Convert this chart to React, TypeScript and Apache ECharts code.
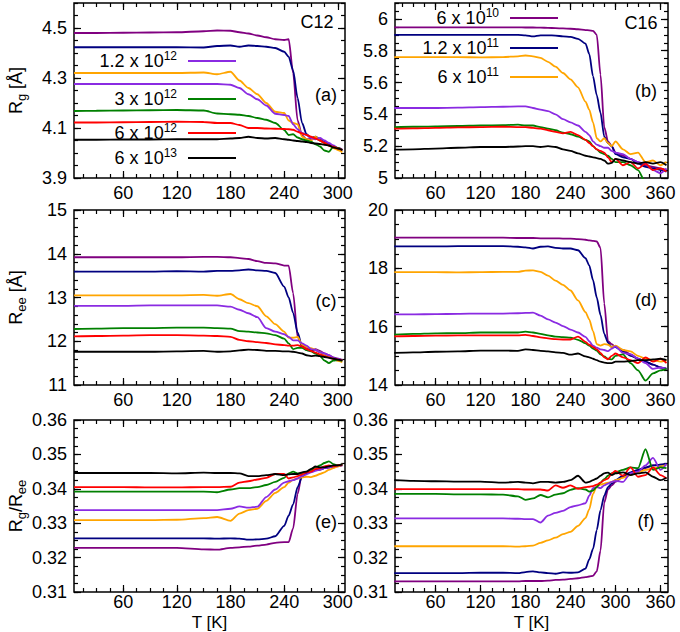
import React, { useEffect, useRef } from "react";
import * as echarts from "echarts";

const FONT = "'Liberation Sans', Arial, Helvetica, sans-serif";

// Temperatures (K)
const T_C12 = [5, 30, 60, 90, 120, 150, 165, 180, 190, 200, 210, 220, 230, 240, 245, 250, 255, 260, 265, 270, 275, 280, 285, 290, 295, 300, 305];
const T_C16 = [5, 30, 60, 90, 120, 150, 170, 180, 190, 200, 210, 220, 230, 240, 250, 260, 265, 270, 275, 280, 285, 290, 295, 300, 310, 320, 330, 340, 350, 360, 368];

// Cooling rates (legend) and colours
const LEGEND_BASE = ["6 x 10", "1.2 x 10", "6 x 10", "1.2 x 10", "3 x 10", "6 x 10", "6 x 10"];
const LEGEND_EXP = ["10", "11", "11", "12", "12", "12", "13"];
const COLORS = ["#800080", "#000080", "#ffa500", "#8a2be2", "#008000", "#ff0000", "#000000"];

// (a) Rg C12
const RG12_P = [4.48, 4.48, 4.481, 4.482, 4.483, 4.487, 4.49, 4.489, 4.483, 4.478, 4.47, 4.463, 4.455, 4.452, 4.455, 4.32, 4.13, 4.07, 4.055, 4.055, 4.06, 4.05, 4.04, 4.035, 4.025, 4.02, 4.012];
const RG12_N = [4.423, 4.423, 4.423, 4.423, 4.423, 4.422, 4.428, 4.43, 4.425, 4.43, 4.428, 4.425, 4.42, 4.405, 4.385, 4.33, 4.22, 4.12, 4.075, 4.06, 4.065, 4.055, 4.045, 4.035, 4.025, 4.018, 4.01];
const RG12_O = [4.32, 4.32, 4.32, 4.32, 4.32, 4.322, 4.315, 4.325, 4.29, 4.26, 4.235, 4.2, 4.165, 4.16, 4.13, 4.12, 4.115, 4.065, 4.055, 4.05, 4.065, 4.05, 4.04, 4.03, 4.02, 4.012, 4.003];
const RG12_V = [4.276, 4.276, 4.276, 4.276, 4.276, 4.276, 4.276, 4.273, 4.26, 4.235, 4.215, 4.19, 4.157, 4.152, 4.148, 4.115, 4.095, 4.08, 4.072, 4.06, 4.055, 4.06, 4.05, 4.04, 4.03, 4.02, 4.015];
const RG12_G = [4.168, 4.169, 4.17, 4.171, 4.172, 4.17, 4.158, 4.155, 4.153, 4.148, 4.14, 4.133, 4.12, 4.092, 4.072, 4.075, 4.062, 4.055, 4.05, 4.045, 4.035, 4.026, 4.01, 4.005, 4.025, 4.02, 4.012];
const RG12_R = [4.122, 4.122, 4.123, 4.124, 4.125, 4.124, 4.12, 4.12, 4.112, 4.1, 4.1, 4.098, 4.097, 4.096, 4.095, 4.093, 4.085, 4.078, 4.072, 4.065, 4.058, 4.05, 4.04, 4.03, 4.025, 4.018, 4.012];
const RG12_K = [4.053, 4.053, 4.054, 4.054, 4.055, 4.055, 4.055, 4.058, 4.06, 4.065, 4.06, 4.058, 4.06, 4.055, 4.053, 4.05, 4.048, 4.046, 4.044, 4.04, 4.038, 4.036, 4.033, 4.03, 4.022, 4.018, 4.012];

// (c) Ree C12
const REE12_P = [13.92, 13.92, 13.92, 13.92, 13.92, 13.93, 13.93, 13.92, 13.9, 13.88, 13.83, 13.79, 13.78, 13.73, 13.73, 13.1, 12.1, 11.9, 11.85, 11.8, 11.82, 11.78, 11.72, 11.68, 11.63, 11.6, 11.57];
const REE12_N = [13.59, 13.59, 13.59, 13.59, 13.6, 13.59, 13.61, 13.61, 13.62, 13.64, 13.62, 13.61, 13.56, 13.25, 13.0, 12.65, 12.2, 11.88, 11.8, 11.78, 11.8, 11.75, 11.7, 11.65, 11.62, 11.58, 11.55];
const REE12_O = [13.05, 13.05, 13.05, 13.05, 13.05, 13.06, 13.04, 13.08, 12.96, 12.87, 12.8, 12.57, 12.39, 12.22, 12.08, 12.08, 12.1, 11.92, 11.87, 11.84, 11.8, 11.75, 11.7, 11.65, 11.6, 11.55, 11.52];
const REE12_V = [12.81, 12.81, 12.81, 12.82, 12.82, 12.82, 12.82, 12.79, 12.72, 12.64, 12.55, 12.3, 12.22, 12.16, 12.1, 12.02, 12.02, 11.95, 11.9, 11.82, 11.8, 11.75, 11.72, 11.68, 11.62, 11.6, 11.56];
const REE12_G = [12.28, 12.29, 12.3, 12.3, 12.31, 12.31, 12.3, 12.29, 12.23, 12.22, 12.2, 12.18, 12.14, 12.06, 11.95, 11.82, 11.85, 11.85, 11.8, 11.77, 11.72, 11.66, 11.56, 11.5, 11.56, 11.57, 11.55];
const REE12_R = [12.11, 12.12, 12.13, 12.14, 12.14, 12.13, 12.12, 12.1, 12.03, 12.0, 11.98, 11.96, 11.93, 11.91, 11.9, 11.9, 11.91, 11.88, 11.82, 11.78, 11.74, 11.7, 11.66, 11.63, 11.6, 11.58, 11.56];
const REE12_K = [11.76, 11.76, 11.76, 11.76, 11.77, 11.78, 11.76, 11.77, 11.79, 11.81, 11.8, 11.78, 11.78, 11.77, 11.77, 11.76, 11.74, 11.72, 11.68, 11.66, 11.67, 11.66, 11.64, 11.62, 11.6, 11.58, 11.56];

// (e) Rg/Ree C12
const RAT12_P = [0.3228, 0.3228, 0.3228, 0.3228, 0.3228, 0.3224, 0.3223, 0.3228, 0.323, 0.3232, 0.3235, 0.3238, 0.3243, 0.3245, 0.3245, 0.3285, 0.3385, 0.3445, 0.3448, 0.345, 0.3455, 0.3455, 0.346, 0.3462, 0.3465, 0.3465, 0.3468];
const RAT12_N = [0.3256, 0.3256, 0.3256, 0.3256, 0.3256, 0.3256, 0.3255, 0.3256, 0.3255, 0.3252, 0.3253, 0.3255, 0.3262, 0.3292, 0.3322, 0.3355, 0.3405, 0.3435, 0.3445, 0.345, 0.3455, 0.3458, 0.346, 0.3462, 0.3465, 0.3468, 0.347];
const RAT12_O = [0.3309, 0.3309, 0.3309, 0.3309, 0.331, 0.3315, 0.3318, 0.3307, 0.3328, 0.3338, 0.3342, 0.3365, 0.3388, 0.3405, 0.3418, 0.3426, 0.343, 0.3433, 0.3435, 0.3434, 0.3438, 0.3443, 0.3448, 0.3455, 0.346, 0.3465, 0.3472];
const RAT12_V = [0.3338, 0.3338, 0.3338, 0.3338, 0.3338, 0.3338, 0.3338, 0.3342, 0.3349, 0.3345, 0.3348, 0.3376, 0.3398, 0.3418, 0.3422, 0.3425, 0.343, 0.3437, 0.3442, 0.3448, 0.3452, 0.3456, 0.346, 0.3462, 0.3465, 0.3468, 0.3472];
const RAT12_G = [0.3392, 0.3392, 0.3392, 0.3392, 0.3392, 0.3392, 0.339, 0.3398, 0.3402, 0.3402, 0.3405, 0.3411, 0.342, 0.3432, 0.3445, 0.345, 0.3445, 0.3443, 0.345, 0.3455, 0.3462, 0.3468, 0.3475, 0.348, 0.3472, 0.3468, 0.3472];
const RAT12_R = [0.3405, 0.3405, 0.3405, 0.3404, 0.3404, 0.3405, 0.3405, 0.3406, 0.3418, 0.3422, 0.3427, 0.3432, 0.3443, 0.3443, 0.343, 0.3433, 0.3437, 0.3442, 0.3448, 0.345, 0.3458, 0.346, 0.3465, 0.3468, 0.3465, 0.3468, 0.347];
const RAT12_K = [0.3446, 0.3446, 0.3446, 0.3446, 0.3445, 0.3447, 0.3446, 0.3446, 0.3445, 0.3437, 0.3437, 0.344, 0.3443, 0.344, 0.3442, 0.3443, 0.3443, 0.3448, 0.345, 0.3458, 0.3465, 0.3462, 0.3462, 0.3465, 0.3468, 0.3468, 0.347];

// (b) Rg C16
const RG16_P = [5.947, 5.947, 5.947, 5.947, 5.947, 5.947, 5.947, 5.946, 5.946, 5.945, 5.944, 5.942, 5.94, 5.938, 5.935, 5.93, 5.928, 5.925, 5.9, 5.65, 5.32, 5.23, 5.2, 5.16, 5.14, 5.12, 5.1, 5.08, 5.07, 5.06, 5.05];
const RG16_N = [5.9, 5.9, 5.9, 5.9, 5.9, 5.9, 5.9, 5.897, 5.89, 5.897, 5.897, 5.895, 5.89, 5.887, 5.875, 5.845, 5.78, 5.64, 5.52, 5.41, 5.26, 5.22, 5.2, 5.15, 5.13, 5.12, 5.09, 5.07, 5.06, 5.05, 5.04];
const RG16_O = [5.76, 5.76, 5.76, 5.76, 5.758, 5.76, 5.765, 5.77, 5.765, 5.755, 5.73, 5.7, 5.66, 5.62, 5.57, 5.48, 5.43, 5.35, 5.25, 5.23, 5.25, 5.22, 5.2, 5.23, 5.18, 5.15, 5.16, 5.1, 5.11, 5.08, 5.1];
const RG16_V = [5.44, 5.44, 5.44, 5.442, 5.445, 5.448, 5.45, 5.45, 5.44, 5.43, 5.42, 5.4, 5.37, 5.35, 5.33, 5.29, 5.27, 5.23, 5.21, 5.2, 5.19, 5.19, 5.17, 5.16, 5.15, 5.12, 5.1, 5.09, 5.05, 5.03, 5.06];
const RG16_G = [5.32, 5.322, 5.325, 5.327, 5.33, 5.332, 5.335, 5.33, 5.33, 5.32, 5.31, 5.3, 5.285, 5.275, 5.26, 5.24, 5.23, 5.2, 5.18, 5.16, 5.15, 5.14, 5.12, 5.1, 5.1, 5.08, 5.05, 4.97, 4.92, 4.88, 4.85];
const RG16_R = [5.31, 5.312, 5.315, 5.318, 5.32, 5.322, 5.32, 5.32, 5.315, 5.31, 5.3, 5.29, 5.28, 5.29, 5.27, 5.24, 5.22, 5.2, 5.18, 5.17, 5.16, 5.13, 5.1, 5.12, 5.08, 5.1, 5.06, 5.09, 5.05, 5.06, 5.04];
const RG16_K = [5.178, 5.18, 5.185, 5.19, 5.195, 5.195, 5.198, 5.2, 5.2, 5.195, 5.2, 5.195, 5.18, 5.17, 5.155, 5.14, 5.135, 5.13, 5.125, 5.12, 5.11, 5.09, 5.095, 5.12, 5.11, 5.1, 5.09, 5.1, 5.09, 5.1, 5.08];

// (d) Ree C16
const REE16_P = [19.05, 19.05, 19.05, 19.05, 19.05, 19.05, 19.04, 19.04, 19.04, 19.03, 19.03, 19.03, 19.02, 19.02, 19.0, 18.98, 18.96, 18.94, 18.92, 18.7, 16.8, 15.5, 15.4, 15.3, 15.2, 15.05, 14.9, 14.8, 14.7, 14.6, 14.55];
const REE16_N = [18.75, 18.75, 18.75, 18.76, 18.76, 18.76, 18.74, 18.72, 18.68, 18.74, 18.75, 18.7, 18.68, 18.68, 18.62, 18.35, 18.1, 17.6, 17.0, 16.4, 15.75, 15.45, 15.3, 15.3, 15.15, 15.0, 14.9, 14.8, 14.7, 14.6, 14.55];
const REE16_O = [17.87, 17.87, 17.87, 17.86, 17.87, 17.88, 17.88, 17.92, 17.93, 17.88, 17.75, 17.58, 17.43, 17.24, 16.9, 16.5, 16.25, 15.85, 15.4, 15.35, 15.4, 15.38, 15.3, 15.35, 15.2, 15.15, 15.0, 14.9, 14.85, 14.8, 14.85];
const REE16_V = [16.42, 16.42, 16.43, 16.44, 16.45, 16.45, 16.46, 16.47, 16.48, 16.38, 16.25, 16.14, 16.02, 15.9, 15.8, 15.65, 15.5, 15.35, 15.28, 15.22, 15.2, 15.16, 15.25, 15.32, 15.1, 15.05, 14.9, 14.75, 14.55, 14.6, 14.55];
const REE16_G = [15.73, 15.75, 15.77, 15.78, 15.8, 15.8, 15.8, 15.83, 15.8, 15.75, 15.7, 15.66, 15.64, 15.62, 15.55, 15.43, 15.35, 15.25, 15.18, 15.05, 14.98, 14.9, 14.88, 15.0, 15.05, 14.75, 14.5, 14.15, 14.4, 14.5, 14.55];
const REE16_R = [15.67, 15.68, 15.69, 15.7, 15.7, 15.7, 15.7, 15.72, 15.68, 15.63, 15.6, 15.57, 15.56, 15.56, 15.66, 15.48, 15.38, 15.3, 15.22, 15.1, 14.95, 14.88, 15.0, 15.08, 14.95, 14.85, 14.75, 14.95, 14.8, 14.9, 14.75];
const REE16_K = [15.1, 15.12, 15.14, 15.15, 15.18, 15.18, 15.17, 15.22, 15.2, 15.17, 15.15, 15.12, 15.1, 15.04, 15.08, 14.98, 14.95, 14.9, 14.85, 14.8, 14.77, 14.75, 14.75, 14.8, 14.8, 14.82, 14.85, 14.85, 14.88, 14.9, 14.85];

// (f) Rg/Ree C16
const RAT16_P = [0.3131, 0.3131, 0.3131, 0.3131, 0.3131, 0.3131, 0.3131, 0.3132, 0.3132, 0.3132, 0.3133, 0.3135, 0.3136, 0.3138, 0.314, 0.3143, 0.3145, 0.3147, 0.316, 0.322, 0.336, 0.3398, 0.341, 0.342, 0.3435, 0.3445, 0.3452, 0.346, 0.3468, 0.347, 0.3472];
const RAT16_N = [0.3155, 0.3155, 0.3155, 0.3155, 0.3156, 0.3156, 0.3155, 0.3158, 0.316, 0.3157, 0.3155, 0.3153, 0.3157, 0.3156, 0.3157, 0.3168, 0.3195, 0.3225, 0.328, 0.3338, 0.338, 0.3405, 0.3415, 0.3425, 0.3438, 0.3448, 0.3455, 0.3462, 0.3468, 0.347, 0.3473];
const RAT16_O = [0.3233, 0.3233, 0.3233, 0.3233, 0.3233, 0.3233, 0.3232, 0.3233, 0.3235, 0.3243, 0.325, 0.3258, 0.3268, 0.3275, 0.3292, 0.3315, 0.334, 0.3385, 0.3408, 0.3412, 0.3415, 0.3418, 0.342, 0.3425, 0.3432, 0.344, 0.3448, 0.3455, 0.346, 0.3465, 0.347];
const RAT16_V = [0.3314, 0.3314, 0.3314, 0.3314, 0.3314, 0.3314, 0.3313, 0.3312, 0.3312, 0.3302, 0.3322, 0.333, 0.3336, 0.3347, 0.3352, 0.3358, 0.338, 0.3402, 0.3405, 0.3402, 0.341, 0.3415, 0.342, 0.3423, 0.342, 0.3445, 0.345, 0.3468, 0.349, 0.3455, 0.3472];
const RAT16_G = [0.3385, 0.3385, 0.3385, 0.3384, 0.3384, 0.3383, 0.3378, 0.3368, 0.3372, 0.3382, 0.3375, 0.3383, 0.3387, 0.3397, 0.3402, 0.3398, 0.3392, 0.3395, 0.3405, 0.3418, 0.3428, 0.3438, 0.3445, 0.3448, 0.3455, 0.3462, 0.346, 0.3515, 0.3455, 0.3462, 0.346];
const RAT16_R = [0.3399, 0.3399, 0.3399, 0.3399, 0.3399, 0.3399, 0.3399, 0.3398, 0.3398, 0.3398, 0.3395, 0.341, 0.3403, 0.341, 0.34, 0.3405, 0.3406, 0.3408, 0.3412, 0.3418, 0.3425, 0.343, 0.3445, 0.3452, 0.3438, 0.3462, 0.3435, 0.344, 0.3462, 0.344, 0.343];
const RAT16_K = [0.3425, 0.3423, 0.3422, 0.3421, 0.3421, 0.3418, 0.342, 0.3418, 0.3416, 0.342, 0.342, 0.3418, 0.342, 0.3425, 0.3438, 0.3418, 0.342, 0.3425, 0.343, 0.3438, 0.3445, 0.3447, 0.344, 0.3445, 0.3448, 0.344, 0.3445, 0.3448, 0.3435, 0.3425, 0.3432];

// Tick labels
const X_TICKS_C12 = [60, 120, 180, 240, 300];
const X_TICKS_C16 = [60, 120, 180, 240, 300, 360];
const Y_TICKS_RG12 = [3.9, 4.1, 4.3, 4.5];
const Y_TICKS_RG16 = [5, 5.2, 5.4, 5.6, 5.8, 6];
const Y_TICKS_REE12 = [11, 12, 13, 14, 15];
const Y_TICKS_REE16 = [14, 16, 18, 20];
const Y_TICKS_RAT = [0.31, 0.32, 0.33, 0.34, 0.35, 0.36];

const PANEL_TAGS = ["(a)", "(b)", "(c)", "(d)", "(e)", "(f)"];
const X_TITLE = "T [K]";

function steps(a: number, b: number, s: number) {
  const out: number[] = [];
  const n = Math.round((b - a) / s);
  for (let i = 0; i <= n; i++) out.push(+(a + i * s).toFixed(6));
  return out;
}

const NAME_RG = "{n|R}{s|g}{n| [Å]}";
const NAME_REE = "{n|R}{s|ee}{n| [Å]}";
const NAME_RAT = "{n|R}{s|g}{n|/R}{s|ee}";

const PANELS = [
  { left: 74, top: 3, width: 271, height: 175, xMin: 5, xMax: 308, xMajor: X_TICKS_C12, xMinor: steps(15, 300, 15), yMin: 3.9, yMax: 4.6, yMajor: Y_TICKS_RG12, yMinor: steps(3.9, 4.6, 0.05), T: T_C12, data: [RG12_P, RG12_N, RG12_O, RG12_V, RG12_G, RG12_R, RG12_K], yName: NAME_RG, xTitle: false, labelMargin: 6, tagPos: [326, 95] },
  { left: 395, top: 3, width: 273, height: 175, xMin: 6, xMax: 370, xMajor: X_TICKS_C16, xMinor: steps(15, 360, 15), yMin: 5, yMax: 6.1, yMajor: Y_TICKS_RG16, yMinor: steps(5, 6.1, 0.05), T: T_C16, data: [RG16_P, RG16_N, RG16_O, RG16_V, RG16_G, RG16_R, RG16_K], yName: "", xTitle: false, labelMargin: 6, tagPos: [646, 91] },
  { left: 74, top: 210, width: 271, height: 175, xMin: 5, xMax: 308, xMajor: X_TICKS_C12, xMinor: steps(15, 300, 15), yMin: 11, yMax: 15, yMajor: Y_TICKS_REE12, yMinor: steps(11, 15, 0.2), T: T_C12, data: [REE12_P, REE12_N, REE12_O, REE12_V, REE12_G, REE12_R, REE12_K], yName: NAME_REE, xTitle: false, labelMargin: 6, tagPos: [326, 301] },
  { left: 395, top: 210, width: 273, height: 175, xMin: 6, xMax: 370, xMajor: X_TICKS_C16, xMinor: steps(15, 360, 15), yMin: 14, yMax: 20, yMajor: Y_TICKS_REE16, yMinor: steps(14, 20, 0.5), T: T_C16, data: [REE16_P, REE16_N, REE16_O, REE16_V, REE16_G, REE16_R, REE16_K], yName: "", xTitle: false, labelMargin: 6, tagPos: [646, 300] },
  { left: 74, top: 420, width: 271, height: 172, xMin: 5, xMax: 308, xMajor: X_TICKS_C12, xMinor: steps(15, 300, 15), yMin: 0.31, yMax: 0.36, yMajor: Y_TICKS_RAT, yMinor: steps(0.31, 0.36, 0.0025), T: T_C12, data: [RAT12_P, RAT12_N, RAT12_O, RAT12_V, RAT12_G, RAT12_R, RAT12_K], yName: NAME_RAT, xTitle: true, labelMargin: 1, tagPos: [326, 522] },
  { left: 395, top: 420, width: 273, height: 172, xMin: 6, xMax: 370, xMajor: X_TICKS_C16, xMinor: steps(15, 360, 15), yMin: 0.31, yMax: 0.36, yMajor: Y_TICKS_RAT, yMinor: steps(0.31, 0.36, 0.0025), T: T_C16, data: [RAT16_P, RAT16_N, RAT16_O, RAT16_V, RAT16_G, RAT16_R, RAT16_K], yName: "", xTitle: true, labelMargin: 1, tagPos: [646, 521] },
];

// legend placements: [series index, line y]
const LEGEND_A = [[3, 61], [4, 99], [5, 133], [6, 158]];
const LEGEND_B = [[0, 18], [1, 48], [2, 77]];

const TXT = { fontFamily: FONT, color: "#000" };

function buildOption() {
  const grids: any[] = [];
  const xAxes: any[] = [];
  const yAxes: any[] = [];
  const series: any[] = [];

  PANELS.forEach((p, g) => {
    grids.push({
      left: p.left, top: p.top, width: p.width, height: p.height,
      show: true, borderColor: "#000", borderWidth: 1.5, backgroundColor: "transparent",
      containLabel: false, outerBoundsMode: "none",
    });
    const tickStyle = { color: "#000", width: 1.2 };
    const mkX = (position: string, major: boolean, labels: boolean) => ({
      type: "value", gridIndex: g, position, min: p.xMin, max: p.xMax,
      axisLine: { show: false }, splitLine: { show: false },
      axisTick: { show: true, inside: true, length: major ? 7 : 4, customValues: major ? p.xMajor : p.xMinor, lineStyle: tickStyle },
      axisLabel: labels
        ? { show: true, customValues: p.xMajor, margin: p.labelMargin, fontSize: 18, lineHeight: 18, ...TXT }
        : { show: false },
    });
    const mkY = (position: string, major: boolean, labels: boolean) => ({
      type: "value", gridIndex: g, position, min: p.yMin, max: p.yMax,
      axisLine: { show: false }, splitLine: { show: false },
      axisTick: { show: true, inside: true, length: major ? 7 : 4, customValues: major ? p.yMajor : p.yMinor, lineStyle: tickStyle },
      axisLabel: labels
        ? { show: true, customValues: p.yMajor, margin: 7, fontSize: 18, ...TXT }
        : { show: false },
      name: labels && p.yName ? p.yName : "",
      nameLocation: "middle", nameGap: 46, nameRotate: 90, nameMoveOverlap: false,
      nameTextStyle: {
        fontSize: 18, ...TXT,
        rich: {
          n: { fontSize: 18, lineHeight: 24, ...TXT },
          s: { fontSize: 13, lineHeight: 13, verticalAlign: "bottom", ...TXT },
        },
      },
    });
    xAxes.push(mkX("bottom", true, true), mkX("bottom", false, false), mkX("top", true, false), mkX("top", false, false));
    yAxes.push(mkY("left", true, true), mkY("left", false, false), mkY("right", true, false), mkY("right", false, false));

    p.data.forEach((vals, k) => {
      series.push({
        type: "line", xAxisIndex: 4 * g, yAxisIndex: 4 * g,
        data: p.T.map((t, i) => [t, vals[i]]),
        symbol: "none", showSymbol: false, silent: true, clip: true,
        smooth: 0.25, smoothMonotone: "x",
        lineStyle: { color: COLORS[k], width: 1.8 },
        itemStyle: { color: COLORS[k] },
      });
    });
  });

  const rich = {
    n: { fontSize: 18, lineHeight: 22, fontFamily: FONT, fill: "#000", color: "#000" },
    p: { fontSize: 12, lineHeight: 12, verticalAlign: "top", fontFamily: FONT, fill: "#000", color: "#000" },
  };
  const legendItems = (list: number[][], x1: number, x2: number) =>
    list.flatMap(([k, y]) => [
      { type: "line", shape: { x1, y1: y, x2, y2: y }, style: { stroke: COLORS[k], lineWidth: 2 }, silent: true },
      {
        type: "text", x: x1 - 11, y, silent: true,
        style: { text: `{n|${LEGEND_BASE[k]}}{p|${LEGEND_EXP[k]}}`, rich, align: "right", verticalAlign: "middle", fontFamily: FONT, fontSize: 18, fill: "#000" },
      },
    ]);

  const centered = (text: string, x: number, y: number, size = 18) => ({
    type: "text", x, y, silent: true,
    style: { text, fontFamily: FONT, fontSize: size, lineHeight: size, fill: "#000", align: "center", verticalAlign: "middle" },
  });

  const graphic: any[] = [
    ...PANELS.map((p, i) => centered(PANEL_TAGS[i], p.tagPos[0], p.tagPos[1])),
    ...PANELS.filter((p) => p.xTitle).map((p) => centered(X_TITLE, p.left + p.width / 2, 622, 17)),
    centered("C12", 317, 22),
    centered("C16", 641, 23),
    ...legendItems(LEGEND_A, 188, 236),
    ...legendItems(LEGEND_B, 510, 558),
  ];

  return {
    animation: false,
    backgroundColor: "#ffffff",
    textStyle: { fontFamily: FONT },
    grid: grids,
    xAxis: xAxes,
    yAxis: yAxes,
    series,
    graphic,
  };
}

export default function App() {
  const ref = useRef<HTMLDivElement>(null);
  useEffect(() => {
    if (!ref.current) return;
    const chart = echarts.init(ref.current, undefined, { renderer: "svg" });
    chart.setOption(buildOption() as any);
    return () => chart.dispose();
  }, []);
  return (
    <div
      ref={ref}
      style={{ position: "absolute", left: 0, top: 0, width: 680, height: 632, background: "#fff" }}
    />
  );
}
